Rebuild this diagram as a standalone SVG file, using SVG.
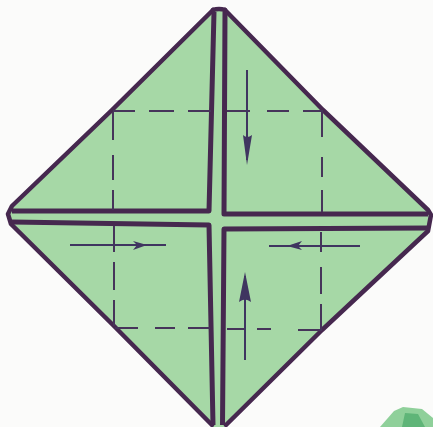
<svg xmlns="http://www.w3.org/2000/svg" width="433" height="427" viewBox="0 0 433 427">
<defs>
<style>
.o{fill:none;stroke:#46284f;stroke-width:4.500;stroke-linejoin:round;stroke-linecap:round}
.f{fill:none;stroke:#46284f;stroke-width:5;stroke-linejoin:round;stroke-linecap:butt}
.d{fill:none;stroke:#46345a;stroke-width:2}
.a{fill:none;stroke:#3f3560;stroke-width:2}
.h{fill:#3f3560}
</style>
</defs>
<rect width="433" height="427" fill="#fbfbfa"/>
<g id="paper">
<path d="M214 10 L225 10 L323 110 L431 214 L428 232 L322 330 L224 427 L213 427 L113 325 L9 222 L8 213 L112 110 Z" fill="#a6d8a6"/>
</g>
<g id="folds">
<path class="o" d="M225 10 L323 110 L428 210 L431 215 L428 231 L322 330 L226 425"/>
<path class="o" d="M213 10 L112 110 L12 206 L8 214 L11 224 L113 325 L212 425"/>
<path class="o" d="M213 10 Q219 8 225 10"/>
<path class="f" d="M214 12 L209 211 L12 211"/>
<path class="f" d="M225 12 L224 214 L428 214"/>
<path class="f" d="M12 222 L209 225 L213 425"/>
<path class="f" d="M428 228 L224 229 L222.500 425"/>
</g>
<g id="dashes">
<path class="d" d="M113 111 H135 M149 111 H174 M188 111 H211 M227 111 H250 M267 111 H289 M303 111 H323"/>
<path class="d" d="M113 112 V140 M113 155 V180 M113 190 V210"/>
<path class="d" d="M322 112 V137 M322 157 V177 M322 190 V212"/>
<path class="d" d="M114 226 V252 M114 262 V290 M114 300 V326"/>
<path class="d" d="M115 328 H138 M155 328 H175 M188 328 H210 M227 329 H245 M257 329 H271 M298 330 H322"/>
<path class="d" d="M321 232 V252 M321 267 V294 M321 304 V329"/>
</g>
<g id="connectors">
<path class="a" d="M247 70 V160"/><path class="h" d="M243 135 Q247 139 252 135 L247 165 Z"/>
<path class="a" d="M70 245 H166"/><path class="h" d="M133 241 L147 245 L133 250 L137 245 Z"/>
<path class="a" d="M360 246 H269"/><path class="h" d="M302 241 L287 246 L302 250 L298 246 Z"/>
<path class="a" d="M245 360 V276"/><path class="h" d="M239 302 Q245 297 251 302 L245 272 Z"/>
</g>
<g id="corner">
<path d="M380 427 L394 411 L403 407 L422 409 L433 418 L433 427 Z" fill="#8fd09a"/>
<path d="M402 427 L405 413 L418 414 L425 427 Z" fill="#5fb578"/>
</g>
</svg>
